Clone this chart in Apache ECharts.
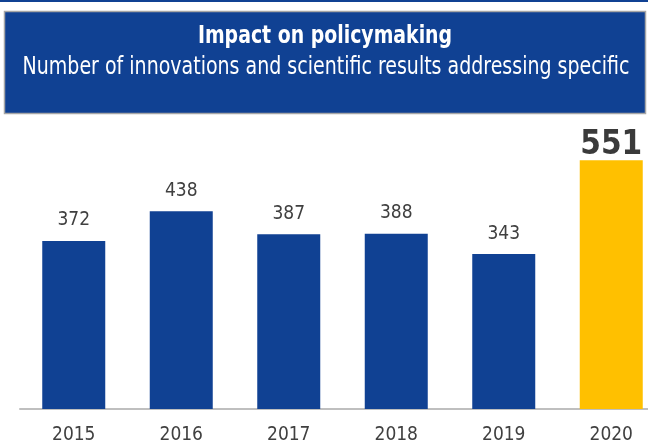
<!DOCTYPE html>
<html><head><meta charset="utf-8">
<script src="https://cdn.jsdelivr.net/npm/echarts@6/dist/echarts.min.js"></script>
<style>html,body{margin:0;padding:0;background:#fff;overflow:hidden}#c{width:665px;height:445px}</style>
</head><body><div id="c"></div>
<script>
var categories = ['2015','2016','2017','2018','2019','2020'];
var values = [372, 438, 387, 388, 343, 551];
var titleText = 'Impact on policymaking';
var subtitleText = 'Number of innovations and scientific results addressing specific';
var FONT = "'DejaVu Sans Condensed','Liberation Sans Narrow',sans-serif";
var BLUE = '#104193', YELLOW = '#FFC000';
var chart = echarts.init(document.getElementById('c'));
var data = values.map(function(v, i){
  var last = i === values.length - 1;
  return {
    value: v,
    itemStyle: {color: last ? YELLOW : BLUE},
    label: last ? {fontSize: 33, fontWeight: 'bold', color: '#3a3a3a', distance: -2} : {}
  };
});
chart.setOption({
  animation: false,
  graphic: [
    {type:'rect', shape:{x:0,y:0,width:648,height:2}, style:{fill:BLUE}},
    {type:'rect', shape:{x:4.5,y:11.5,width:641,height:102}, style:{fill:'#104193', stroke:'#a6a6a6', lineWidth:1.5}},
    {type:'text', x:325, y:36, scaleX:0.84, style:{text:titleText, fill:'#fff', font:"bold 25px " + FONT, textAlign:'center', textVerticalAlign:'middle'}},
    {type:'text', x:326, y:67, scaleX:0.845, style:{text:subtitleText, fill:'#fff', font:"25px " + FONT, textAlign:'center', textVerticalAlign:'middle'}}
  ],
  grid: {left: 20, top: 138, right: 0, height: 273, containLabel: false},
  xAxis: {
    type: 'category', data: categories,
    axisLine: {show: true, lineStyle: {color: '#bfbfbf', width: 2}},
    axisTick: {show: false},
    axisLabel: {color: '#404040', fontSize: 19, fontFamily: FONT, margin: 17}
  },
  yAxis: {type: 'value', min: 0, max: 600, show: false, splitLine: {show: false}},
  series: [{
    type: 'bar', data: data, barWidth: 63,
    label: {show: true, position: 'top', distance: 11, color: '#404040', fontSize: 19, fontFamily: FONT}
  }]
});
</script></body></html>
